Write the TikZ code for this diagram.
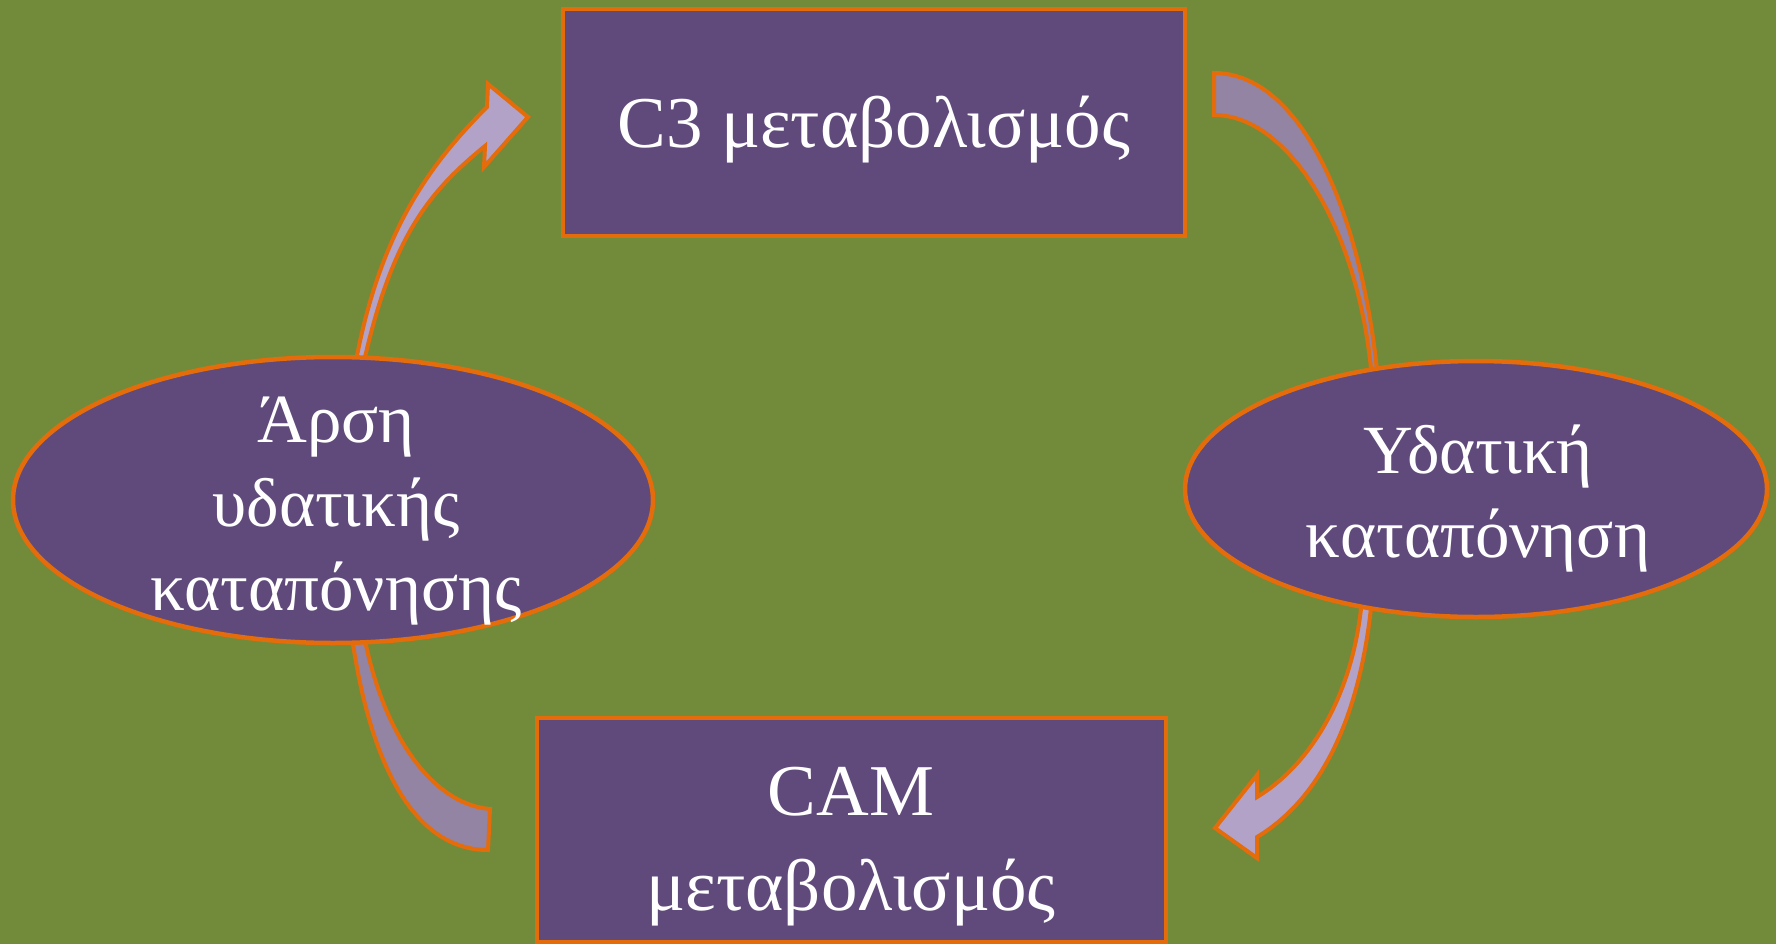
\documentclass[tikz,border=0pt]{standalone}
\usepackage{fontspec}
\setmainfont{Liberation Serif}
\usetikzlibrary{shapes.geometric}
\definecolor{bggreen}{HTML}{718B3A}
\definecolor{boxpurple}{HTML}{604A7B}
\definecolor{edgeorange}{HTML}{E46C0A}
\definecolor{arrowlight}{HTML}{B3A2C7}
\definecolor{arrowdark}{HTML}{9384A4}
\begin{document}
\begin{tikzpicture}[x=1pt,y=-1pt,
  stage/.style={rectangle, draw=edgeorange, line width=4.5pt, fill=boxpurple, inner sep=0pt},
  oval/.style={ellipse, draw=edgeorange, line width=4.5pt, fill=boxpurple, inner sep=0pt},
  stagetext/.style={text=white, inner sep=0pt, anchor=base, align=center, font=\fontsize{73}{95}\selectfont},
  ovaltext/.style={text=white, inner sep=0pt, anchor=base, align=center, font=\fontsize{69}{84}\selectfont},
  blockarrow/.style={draw=edgeorange, line width=4pt, line join=miter}]
\useasboundingbox (0,0) rectangle (1776,944);
\fill[bggreen] (0,0) rectangle (1776,944);
% curved block arrows (behind the shapes)
\draw[blockarrow, fill=arrowlight] (355,366) .. controls (379,235) and (427,167) .. (487,107)
  -- (488,84) -- (528,117) -- (484,167) -- (485,146)
  .. controls (430,191) and (392,235) .. (363,366) -- cycle;
\draw[blockarrow, fill=arrowdark] (1214,73) .. controls (1304,73) and (1363,220) .. (1378,380)
  -- (1372,380) .. controls (1360,230) and (1289,115) .. (1214,115) -- cycle;
\draw[blockarrow, fill=arrowdark] (351,630) .. controls (367,750) and (408,850) .. (488,850)
  -- (490,809) .. controls (430,804) and (381,730) .. (363,630) -- cycle;
\draw[blockarrow, fill=arrowlight] (1372,598) .. controls (1362,705) and (1327,795) .. (1257,837)
  -- (1257,858) -- (1215,828) -- (1257,775) -- (1257,797)
  .. controls (1310,765) and (1354,695) .. (1362,598) -- cycle;
% shapes
\node[stage, minimum width=622pt, minimum height=227pt] (c3) at (874,122.5) {};
\node[stage, minimum width=629pt, minimum height=224pt] (cam) at (851.5,830) {};
\node[oval, minimum width=640pt, minimum height=286pt] (relief) at (333,500) {};
\node[oval, minimum width=582pt, minimum height=256pt] (stress) at (1476,489) {};
% texts (base anchor = baseline of the last line)
\node[stagetext] (c3text) at (874,148) {C3 μεταβολισμός};
\node[stagetext] (camtext) at (851,910) {CAM\\μεταβολισμός};
\node[ovaltext] (relieftext) at (336,610) {Άρση\\υδατικής\\καταπόνησης};
\node[ovaltext] (stresstext) at (1478,557) {Υδατική\\καταπόνηση};
\end{tikzpicture}
\end{document}
